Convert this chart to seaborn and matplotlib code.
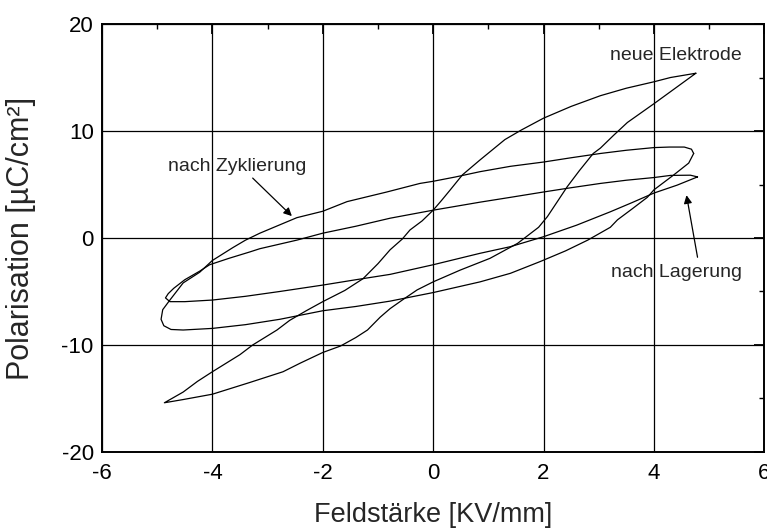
import numpy as np
import pandas as pd
import matplotlib
matplotlib.use("Agg")
import matplotlib.pyplot as plt
from matplotlib.ticker import MultipleLocator
import seaborn as sns

# Hysteresis loops: field strength E [kV/mm] and polarisation P [µC/cm²]
# Each loop runs from its right tip along the upper branch to the left tip,
# then back along the lower branch.
neu_E = [4.76, 4.3, 4.0, 3.5, 3.03, 2.5, 2.0, 1.6, 1.3, 0.85, 0.53, 0.31, 0.15, 0.0,
         -0.2, -0.42, -0.56, -0.78, -1.0, -1.27, -1.6, -2.0, -2.3, -2.6, -2.83, -3.05,
         -3.27, -3.5, -3.75, -4.0, -4.27, -4.53, -4.7, -4.87,
         -4.53, -4.0, -3.32, -2.72, -2.41, -2.0, -1.68, -1.4, -1.19, -0.96, -0.78,
         -0.56, -0.29, 0.0, 0.49, 1.03, 1.53, 1.91, 2.07, 2.25, 2.43, 2.65, 2.9, 3.03,
         3.27, 3.52, 4.0, 4.4, 4.76]
neu_P = [15.4, 15.0, 14.6, 14.0, 13.3, 12.3, 11.2, 10.1, 9.2, 7.3, 5.9, 4.5, 3.5, 2.6,
         1.6, 0.75, -0.1, -1.1, -2.4, -3.8, -4.9, -5.95, -6.8, -7.7, -8.6, -9.3,
         -10.0, -10.9, -11.7, -12.5, -13.4, -14.4, -14.9, -15.4,
         -15.1, -14.6, -13.5, -12.5, -11.7, -10.7, -10.1, -9.3, -8.6, -7.4, -6.6,
         -5.8, -4.85, -4.1, -3.0, -1.9, -0.5, 1.0, 2.0, 3.4, 4.8, 6.3, 7.9, 8.4,
         9.6, 10.8, 12.55, 14.05, 15.4]

zyk_E = [4.72, 4.68, 4.55, 4.28, 4.0, 3.5, 3.03, 2.5, 2.0, 1.4, 0.85, 0.4, 0.0, -0.24,
         -0.84, -1.56, -2.0, -2.47, -3.14, -3.4, -3.63, -4.0, -4.23, -4.53, -4.77,
         -4.9, -4.93,
         -4.88, -4.75, -4.53, -4.0, -3.4, -2.78, -2.0, -1.4, -0.78, 0.0, 0.85, 1.4,
         1.94, 2.4, 2.8, 3.21, 3.34, 3.6, 3.88, 4.0, 4.36, 4.63, 4.72]
zyk_P = [7.9, 8.3, 8.5, 8.5, 8.45, 8.2, 7.9, 7.5, 7.1, 6.7, 6.2, 5.7, 5.3, 5.1,
         4.3, 3.4, 2.5, 1.9, 0.45, -0.2, -0.9, -2.1, -3.2, -4.2, -5.8,
         -6.7, -7.6,
         -8.2, -8.55, -8.6, -8.45, -8.1, -7.6, -6.8, -6.4, -5.9, -5.1, -4.1, -3.3,
         -2.2, -1.2, -0.2, 1.0, 1.7, 2.7, 3.8, 4.5, 5.9, 7.0, 7.9]

lag_E = [4.79, 4.66, 4.3, 4.0, 3.5, 3.03, 2.5, 2.0, 1.4, 0.85, 0.0, -0.78, -1.4,
         -2.0, -2.47, -3.14, -3.32, -3.7, -4.05, -4.23, -4.5, -4.7, -4.8, -4.85,
         -4.77, -4.5, -4.0, -3.4, -2.78, -2.0, -1.4, -0.78, 0.0, 0.85, 1.4, 2.0, 2.6,
         3.21, 3.6, 4.0, 4.42, 4.79]
lag_P = [5.71, 5.87, 5.85, 5.65, 5.4, 5.1, 4.7, 4.3, 3.8, 3.35, 2.6, 1.85, 1.1,
         0.45, -0.2, -1.0, -1.3, -1.9, -2.5, -3.1, -3.9, -4.7, -5.2, -5.6,
         -5.95, -5.95, -5.8, -5.45, -5.0, -4.4, -3.9, -3.4, -2.5, -1.43, -0.81, 0.12, 1.2,
         2.45, 3.3, 4.2, 4.94, 5.71]

labels = ["neue Elektrode", "nach Zyklierung", "nach Lagerung"]
x_ticks = [-6, -4, -2, 0, 2, 4, 6]
y_ticks = [-20, -10, 0, 10, 20]

frames = []
for name, e, p in zip(labels, [neu_E, zyk_E, lag_E], [neu_P, zyk_P, lag_P]):
    frames.append(pd.DataFrame({"E": e, "P": p, "Probe": name, "idx": np.arange(len(e))}))
df = pd.concat(frames, ignore_index=True)

sns.set_style("white")
plt.rcParams["font.family"] = ["Liberation Sans", "DejaVu Sans"]

fig = plt.figure(figsize=(7.67, 5.29), dpi=100)
ax = fig.add_axes([0.133, 0.1456, 0.8635, 0.809])

sns.lineplot(data=df, x="E", y="P", units="Probe", estimator=None, sort=False,
             color="black", linewidth=0.9, ax=ax, legend=False)

ax.set_xlim(-6, 6)
ax.set_ylim(-20, 20)
ax.set_xticks(x_ticks)
ax.set_yticks(y_ticks)
ax.set_xticklabels([str(v) for v in x_ticks])
ax.set_yticklabels([str(v) for v in y_ticks])
ax.xaxis.set_minor_locator(MultipleLocator(1))
ax.yaxis.set_minor_locator(MultipleLocator(5))
ax.grid(True, which="major", color="black", linewidth=0.9)
ax.tick_params(which="both", direction="in", top=True, right=True, colors="black")
ax.tick_params(which="major", length=7, width=1.3, labelsize=16, pad=6)
ax.tick_params(axis="x", which="major", pad=8)
ax.tick_params(which="minor", length=3.5, width=1.0)
for s in ax.spines.values():
    s.set_color("black")
    s.set_linewidth(1.4)

ax.set_xlabel("Feldstärke [KV/mm]", fontsize=19.5, labelpad=13)
ax.set_ylabel("Polarisation [µC/cm²]", fontsize=22, labelpad=18)

ax.text(4.4, 17.1, "neue Elektrode", fontsize=14, ha="center", va="center")
ax.text(-3.55, 6.7, "nach Zyklierung", fontsize=14, ha="center", va="center")
ax.text(4.4, -3.2, "nach Lagerung", fontsize=14, ha="center", va="center")

ax.annotate("", xy=(-2.56, 2.05), xytext=(-3.27, 5.6),
            arrowprops=dict(arrowstyle="-|>", color="black", lw=0.9,
                            mutation_scale=12, shrinkA=0, shrinkB=0))
ax.annotate("", xy=(4.59, 4.0), xytext=(4.79, -1.8),
            arrowprops=dict(arrowstyle="-|>", color="black", lw=0.9,
                            mutation_scale=12, shrinkA=0, shrinkB=0))

fig.savefig("out.png", dpi=100)
